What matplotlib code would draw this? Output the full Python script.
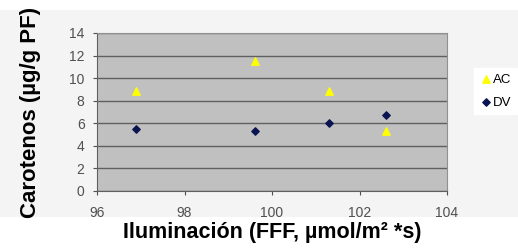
import numpy as np
import matplotlib
matplotlib.use('Agg')
from matplotlib import pyplot as plt
from matplotlib.patches import Rectangle

# light levels and carotenoid content
ac_x = [96.9, 99.6, 101.3, 102.6]
ac_y = [8.9, 11.5, 8.9, 5.3]
dv_x = [96.9, 99.6, 101.3, 102.6]
dv_y = [5.45, 5.35, 6.0, 6.7]
series_names = ['AC', 'DV']

plt.rcParams['font.family'] = ['Liberation Sans', 'DejaVu Sans']

fig = plt.figure(figsize=(5.18, 2.48), dpi=100, facecolor='white')
# light grey chart area behind the plot
fig.patches.append(Rectangle((0, 1 - 217 / 248), 1, 207 / 248, transform=fig.transFigure,
                             facecolor='#f4f4f4', edgecolor='none', zorder=-5))

ax = fig.add_axes([97 / 518, 1 - 191 / 248, 350 / 518, 158 / 248])
ax.set_facecolor('#c0c0c0')

ax.scatter(ac_x, ac_y, marker='^', s=28, color='#ffff00', zorder=3, label=series_names[0])
ax.scatter(dv_x, dv_y, marker='D', s=14, color='#0a1450', zorder=3, label=series_names[1])

ax.set_xlim(96, 104)
ax.set_ylim(0, 14)
ax.set_xticks(np.arange(96, 105, 2))
ax.set_yticks(np.arange(0, 15, 2))
ax.yaxis.grid(True, color='#606060', linewidth=1.0)
ax.set_axisbelow(True)
for s in ['top', 'right']:
    ax.spines[s].set_color('#909090')
for s in ['left', 'bottom']:
    ax.spines[s].set_color('#606060')
ax.tick_params(labelsize=10, colors='#505050', length=3, pad=6)
ax.tick_params(axis='x', pad=8)

ax.set_xlabel('Iluminación (FFF, µmol/m² *s)', fontsize=15.5, fontweight='bold', labelpad=1)
ax.set_ylabel('Carotenos (µg/g PF)', fontsize=16, fontweight='bold', labelpad=20)

fig.legend(loc='center right', bbox_to_anchor=(1.0, 1 - 91 / 248), fontsize=9.5,
           frameon=True, fancybox=False, edgecolor='white', facecolor='white', framealpha=1,
           handletextpad=0.0, handlelength=1.0, borderpad=0.4, labelspacing=0.8,
           borderaxespad=0.1)

plt.savefig('out.png', dpi=100)
